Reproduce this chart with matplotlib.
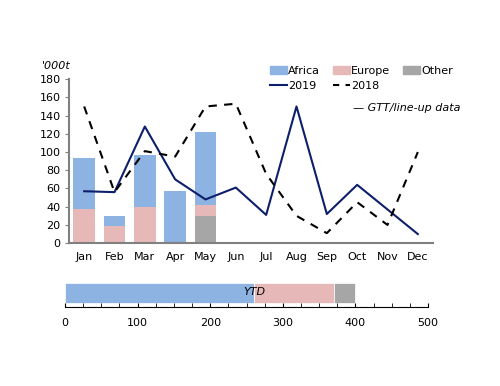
import matplotlib.pyplot as plt
import numpy as np
from matplotlib.patches import Patch
from matplotlib.lines import Line2D

plt.rcParams['font.family'] = 'DejaVu Sans'
plt.rcParams['font.size'] = 8

months = ['Jan', 'Feb', 'Mar', 'Apr', 'May', 'Jun', 'Jul', 'Aug', 'Sep', 'Oct', 'Nov', 'Dec']
africa = [56, 11, 57, 57, 80]
europe = [38, 19, 40, 0, 12]
other = [0, 0, 0, 0, 30]
y2019 = [57, 56, 128, 70, 48, 61, 31, 150, 32, 64, 37, 10]
y2018 = [150, 56, 101, 95, 150, 153, 76, 30, 11, 45, 20, 100]
ytd_labels = ['Africa', 'Europe', 'Other']

c_af = '#8db3e2'
c_eu = '#e6b9b8'
c_ot = '#a6a6a6'
c_19 = '#0d1f6b'
spine_c = '#808080'

fig = plt.figure(figsize=(5, 3.86), dpi=100)
ax = fig.add_axes([0.138, 0.370, 0.728, 0.425])

x = np.arange(len(africa))
w = 0.72
ax.bar(x, other, w, color=c_ot)
ax.bar(x, europe, w, bottom=other, color=c_eu)
ax.bar(x, africa, w, bottom=np.array(other) + np.array(europe), color=c_af)
xl = np.arange(len(months))
ax.plot(xl, y2019, color=c_19, lw=1.5)
ax.plot(xl, y2018, color='black', lw=1.5, ls=(0, (4, 3.5)))

ax.set_xlim(-0.5, 11.5)
ax.set_ylim(0, 180)
ax.set_yticks(range(0, 181, 20))
ax.set_xticks(xl)
ax.set_xticklabels(months)
ax.tick_params(axis='x', length=0, pad=6)
ax.tick_params(axis='y', length=3, color=spine_c, pad=3)
for s in ['top', 'right']:
    ax.spines[s].set_visible(False)
for s in ['left', 'bottom']:
    ax.spines[s].set_color(spine_c)
    ax.spines[s].set_linewidth(1.5)

fig.text(0.084, 0.829, "'000t", style='italic', fontsize=8, va='center')

handles = [Patch(color=c_af), Line2D([], [], color=c_19, lw=1.5),
           Patch(color=c_eu), Line2D([], [], color='black', lw=1.5, ls=(0, (3, 3))),
           Patch(color=c_ot), Line2D([], [], alpha=0)]
labels = ['Africa', '2019', 'Europe', '2018', 'Other', '']
fig.legend(handles, labels, ncol=3, loc='upper left', bbox_to_anchor=(0.52, 0.855),
           frameon=False, handlelength=1.5, handleheight=0.8, handletextpad=0.1,
           columnspacing=1.2, labelspacing=0.45, fontsize=8)
fig.text(0.706, 0.72, '\u2014 GTT/line-up data', style='italic', fontsize=8, va='center')

# YTD bar
bx = fig.add_axes([0.13, 0.205, 0.726, 0.065])
ytd = [sum(africa), sum(europe), sum(other)]
left = 0
for v, c in zip(ytd, [c_af, c_eu, c_ot]):
    bx.barh(0, v, left=left, height=1.0, color=c, edgecolor='white', lw=0.5)
    left += v
bx.text(ytd[0], 0.05, 'YTD', style='italic', ha='center', va='center', fontsize=8)
bx.set_xlim(0, 500)
bx.set_ylim(-0.7, 0.55)
bx.set_yticks([])
bx.set_xticks(range(0, 501, 100))
bx.set_xticks(range(0, 501, 25), minor=True)
bx.tick_params(axis='x', which='both', direction='in', length=3, color='black', pad=8)
for s in ['top', 'right', 'left']:
    bx.spines[s].set_visible(False)
bx.spines['bottom'].set_color('black')
bx.spines['bottom'].set_linewidth(0.8)

fig.savefig('out.png', dpi=100)
